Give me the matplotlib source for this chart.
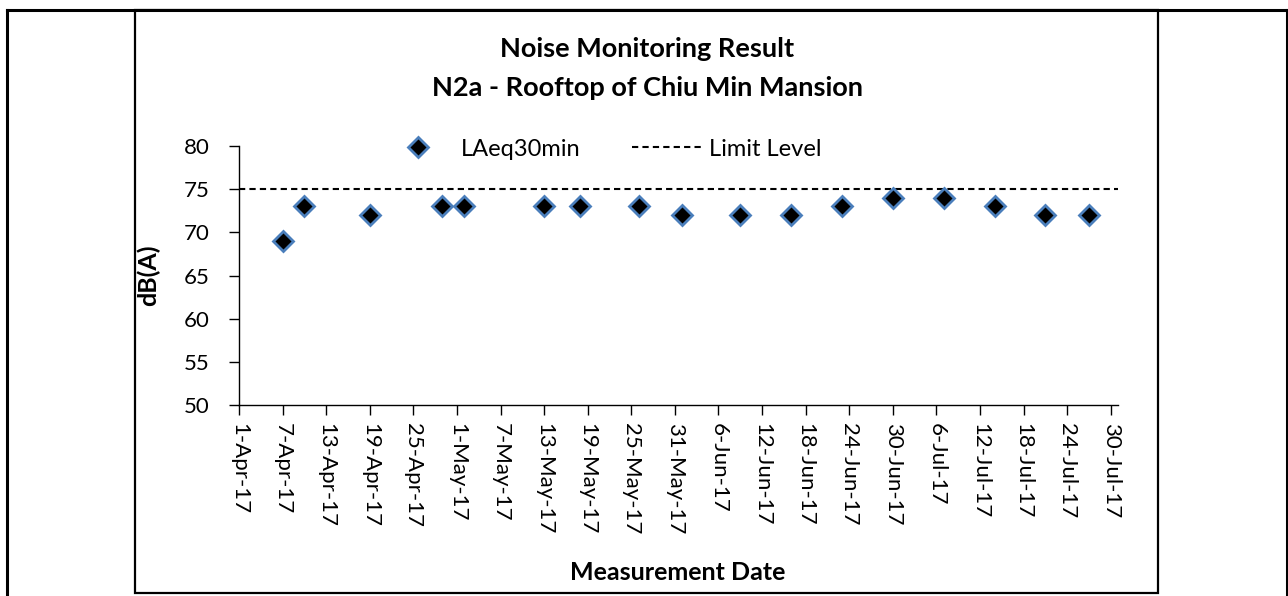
import matplotlib
matplotlib.use("Agg")
import matplotlib.pyplot as plt
from matplotlib.lines import Line2D
from matplotlib.patches import Rectangle
import datetime as dt

# ---- data ----
title_line1 = "Noise Monitoring Result"
title_line2 = "N2a - Rooftop of Chiu Min Mansion"
measure_dates = ["2017-04-07", "2017-04-10", "2017-04-19", "2017-04-29", "2017-05-02",
                 "2017-05-13", "2017-05-18", "2017-05-26", "2017-06-01", "2017-06-09",
                 "2017-06-16", "2017-06-23", "2017-06-30", "2017-07-07", "2017-07-14",
                 "2017-07-21", "2017-07-27"]
laeq_values = [69, 73, 72, 73, 73, 73, 73, 73, 72, 72, 72, 73, 74, 74, 73, 72, 72]
limit_level = 75
axis_start = "2017-04-01"
axis_end = "2017-07-31"
tick_step_days = 6
y_ticks = [50, 55, 60, 65, 70, 75, 80]

FONT = "Lato"
plt.rcParams["font.family"] = [FONT, "DejaVu Sans"]

W, H = 1288, 596
fig = plt.figure(figsize=(W / 100, H / 100), dpi=100)

# axes placement
l, b = 239 / W, 1 - 405 / H
ax = fig.add_axes([l, b, (1118 - 239) / W, (405 - 146) / H])

d = [dt.datetime.strptime(s, "%Y-%m-%d") for s in measure_dates]
x0 = dt.datetime.strptime(axis_start, "%Y-%m-%d")
x1 = dt.datetime.strptime(axis_end, "%Y-%m-%d")

ax.plot(d, laeq_values, linestyle="none", marker="D", markersize=10,
        markerfacecolor="black", markeredgecolor="#4A7EBB", markeredgewidth=2,
        label="LAeq30min", zorder=3)
ax.plot([x0, x1], [limit_level, limit_level], color="black", linewidth=1.5,
        dashes=(3, 2), label="Limit Level", zorder=2)

ax.set_xlim(x0, x1)
ax.set_ylim(50, 80)
ax.set_yticks(y_ticks)
ticks = []
t = x0
while t <= x1:
    ticks.append(t)
    t += dt.timedelta(days=tick_step_days)
ax.set_xticks(ticks)
ax.set_xticklabels([f"{t.day}-{t.strftime('%b')}-{t.strftime('%y')}" for t in ticks],
                   rotation=-90, ha="center", va="top")
ax.tick_params(axis="both", direction="out", length=7, width=1, labelsize=16,
               colors="black")
ax.tick_params(axis="y", pad=14)
ax.tick_params(axis="x", pad=6)
for s in ["top", "right"]:
    ax.spines[s].set_visible(False)
for s in ["left", "bottom"]:
    ax.spines[s].set_linewidth(1)
    ax.spines[s].set_color("black")

ax.set_ylabel("dB(A)", fontsize=18, fontweight="bold")
ax.yaxis.set_label_coords((160 - 239) / (1118 - 239), 0.5)
fig.text(678 / W, 1 - 572 / H, "Measurement Date", fontsize=18, fontweight="bold",
         ha="center", va="center")

fig.text(647 / W, 1 - 49 / H, title_line1, fontsize=19.5, fontweight="bold",
         ha="center", va="center")
fig.text(647 / W, 1 - 88 / H, title_line2, fontsize=19.5, fontweight="bold",
         ha="center", va="center")

leg = fig.legend(loc="center left", bbox_to_anchor=(384 / W, 1 - 149 / H), ncol=2,
                 frameon=False, fontsize=17, handlelength=2.9, handletextpad=0.34,
                 columnspacing=2.2, borderpad=0, borderaxespad=0)

# borders (table cell lines and chart box)
fig.add_artist(Line2D([7 / W, 1287 / W], [1 - 9.5 / H, 1 - 9.5 / H], color="black", lw=2.2))
fig.add_artist(Line2D([7 / W, 7 / W], [1 - 9.5 / H, 0], color="black", lw=2.2))
fig.add_artist(Line2D([1287 / W, 1287 / W], [1 - 9.5 / H, 0], color="black", lw=2.2))
fig.add_artist(Rectangle((135 / W, 1 - 593 / H), (1158 - 135) / W, (593 - 10) / H,
                         transform=fig.transFigure, fill=False, edgecolor="black", lw=1.6))

fig.savefig("out.png", dpi=100)
